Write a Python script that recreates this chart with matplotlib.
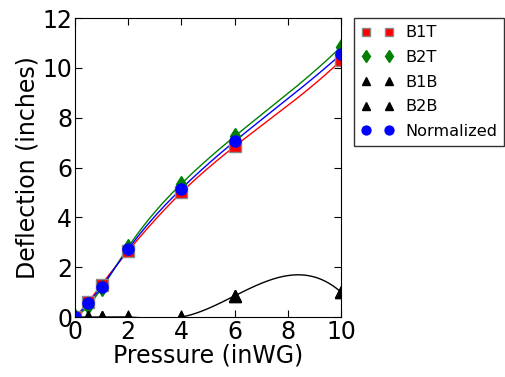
import matplotlib
matplotlib.use("Agg")
import matplotlib.pyplot as plt
import numpy as np

pressure = [0, 0.5, 1, 2, 4, 6, 10]
b1t = [0, 0.6, 1.3, 2.65, 5.0, 6.85, 10.3]
b2t = [0, 0.45, 1.15, 2.8, 5.35, 7.25, 10.85]
b1b = [0, 0, 0, 0, 0, 0.85, 1.0]
b2b = [0, 0, 0, 0, 0, 0.85, 1.0]
normalized = [0, 0.55, 1.22, 2.72, 5.15, 7.05, 10.55]


def spline(x, y, xs):
    # not-a-knot cubic spline (like scipy's interp1d cubic), written out by hand
    x = np.asarray(x, float)
    y = np.asarray(y, float)
    n = len(x)
    h = np.diff(x)
    A = np.zeros((n, n))
    r = np.zeros(n)
    # end conditions: third derivative continuous at x[1] and x[n-2]
    A[0, 0], A[0, 1], A[0, 2] = h[1], -(h[0] + h[1]), h[0]
    A[-1, -3], A[-1, -2], A[-1, -1] = h[-1], -(h[-2] + h[-1]), h[-2]
    for i in range(1, n - 1):
        A[i, i - 1] = h[i - 1]
        A[i, i] = 2 * (h[i - 1] + h[i])
        A[i, i + 1] = h[i]
        r[i] = 6 * ((y[i + 1] - y[i]) / h[i] - (y[i] - y[i - 1]) / h[i - 1])
    M = np.linalg.solve(A, r)
    k = np.clip(np.searchsorted(x, xs) - 1, 0, n - 2)
    t0 = x[k + 1] - xs
    t1 = xs - x[k]
    hk = h[k]
    return (M[k] * t0**3 / (6 * hk) + M[k + 1] * t1**3 / (6 * hk)
            + (y[k] / hk - M[k] * hk / 6) * t0
            + (y[k + 1] / hk - M[k + 1] * hk / 6) * t1)


fig = plt.figure(figsize=(5.06, 3.77), dpi=100)
ax = fig.add_axes([0.148, 0.159, 0.526, 0.793])

xs = np.linspace(0, 10, 400)
ax.plot(xs, spline(pressure, b1t, xs), color='red', lw=1)
ax.plot(xs, spline(pressure, b2t, xs), color='green', lw=1)
ax.plot(xs, spline(pressure, b1b, xs), color='black', lw=1)
ax.plot(xs, spline(pressure, normalized, xs), color='blue', lw=1)

ax.plot(pressure, b1t, 's', color='red', ms=8, mec='#888888', label='B1T')
ax.plot(pressure, b2t, 'd', color='green', ms=8, mec='green', label='B2T')
ax.plot(pressure, b1b, '^', color='black', ms=8, label='B1B')
ax.plot(pressure, b2b, '^', color='black', ms=8, label='B2B')
ax.plot(pressure, normalized, 'o', color='blue', ms=8, mec='blue', label='Normalized')

ax.set_xlim(0, 10)
ax.set_ylim(0, 12)
ax.set_xticks([0, 2, 4, 6, 8, 10])
ax.set_yticks([0, 2, 4, 6, 8, 10, 12])
ax.tick_params(direction='in', top=True, right=True, labelsize=17, length=5, pad=2)
ax.set_xlabel('Pressure (inWG)', fontsize=17, labelpad=0)
ax.set_ylabel('Deflection (inches)', fontsize=17, labelpad=2)

leg = ax.legend(loc='upper left', bbox_to_anchor=(1.05, 1.0), numpoints=2,
                fontsize=11.6, fancybox=False, borderaxespad=0, handlelength=2,
                markerscale=0.8, labelspacing=0.6, handletextpad=0.7,
                borderpad=0.45)
leg.get_frame().set_edgecolor('black')

fig.savefig('out.png', dpi=100)
